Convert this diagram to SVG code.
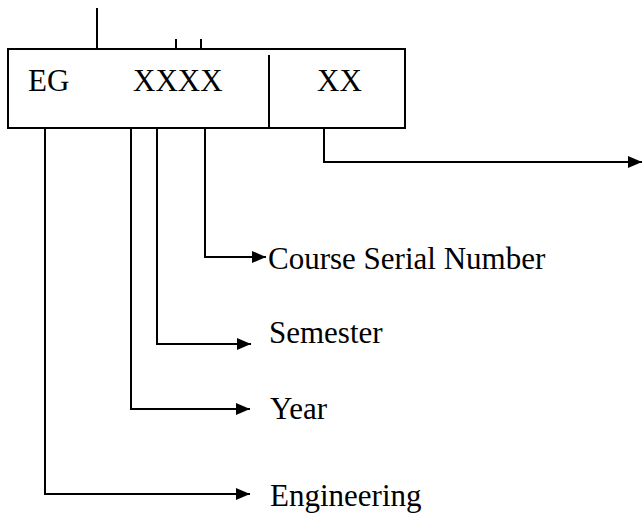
<svg xmlns="http://www.w3.org/2000/svg" width="642" height="517" viewBox="0 0 642 517">
<defs>
<marker id="ah" viewBox="0 0 14 12" refX="14" refY="6" markerWidth="14" markerHeight="12" markerUnits="userSpaceOnUse" orient="auto">
<path d="M0,0 L14,6 L0,12 z" fill="#000"/>
</marker>
<style>
.ln{stroke:#000;stroke-width:2;fill:none}
.ar{stroke:#000;stroke-width:2;fill:none;marker-end:url(#ah)}
.t{font-family:"Liberation Serif","Times New Roman",serif;font-size:31px;fill:#000}
</style>
</defs>
<rect width="642" height="517" fill="#fff"/>
<g id="code-box">
<rect x="8" y="49" width="397" height="79" class="ln"/>
<line x1="269" y1="55" x2="269" y2="128" class="ln"/>
<text x="28" y="91" class="t">EG</text>
<text x="133" y="91" class="t">XXXX</text>
<text x="317" y="91" class="t">XX</text>
</g>
<g id="connectors">
<line x1="97" y1="8" x2="97" y2="49" class="ln"/>
<line x1="176" y1="39" x2="176" y2="49" class="ln"/>
<line x1="201" y1="39" x2="201" y2="49" class="ln"/>
<path d="M324,128 V162 H642" class="ar"/>
<path d="M205,128 V257 H266" class="ar"/>
<path d="M157,128 V344 H251" class="ar"/>
<path d="M131,128 V409 H250" class="ar"/>
<path d="M45,128 V494 H250" class="ar"/>
</g>
<g id="label-course"><text x="268" y="269" class="t">Course Serial Number</text></g>
<g id="label-semester"><text x="269" y="343" class="t">Semester</text></g>
<g id="label-year"><text x="270" y="419" class="t">Year</text></g>
<g id="label-engineering"><text x="270" y="506" class="t">Engineering</text></g>
</svg>
